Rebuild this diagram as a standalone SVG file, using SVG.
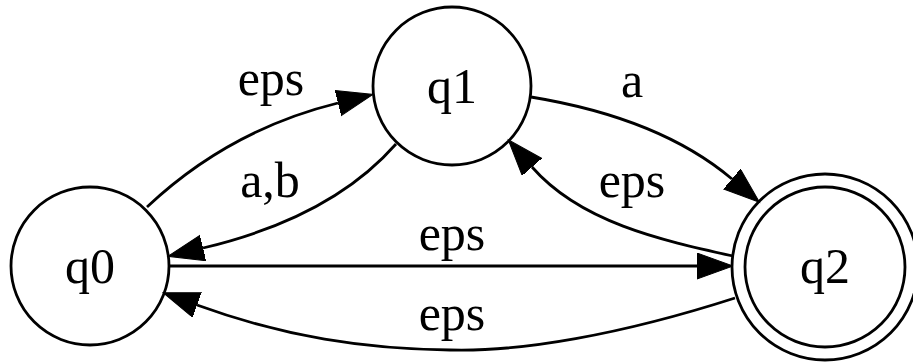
<svg xmlns="http://www.w3.org/2000/svg" width="913" height="363" viewBox="0 0 913 363">
<defs>
<style>
.node circle{fill:none;stroke:#000;stroke-width:2.8}
.edge{fill:none;stroke:#000;stroke-width:2.8}
.lbl{font-family:'Liberation Serif','Times New Roman',Times,'DejaVu Serif',serif;font-size:50px;fill:#000;text-anchor:middle}
</style>
<marker id="arr" markerUnits="userSpaceOnUse" markerWidth="40" markerHeight="30" refX="0" refY="13" orient="auto" viewBox="0 0 40 30">
<path d="M0,0 L36,13 L0,26 Z" fill="#000" stroke="#000" stroke-width="1"/>
</marker>
</defs>
<rect width="913" height="363" fill="#fff"/>
<g id="connectors">
<g id="e-q0-q1"><path class="edge" d="M147,207 C200,157 265,121 338,103" marker-end="url(#arr)"/><text class="lbl" font-family="Liberation Serif, serif" x="271" y="95">eps</text></g>
<g id="e-q1-q0"><path class="edge" d="M396,144 C360,185 300,225 203,248" marker-end="url(#arr)"/><text class="lbl" font-family="Liberation Serif, serif" x="270" y="197">a,b</text></g>
<g id="e-q1-q2"><path class="edge" d="M531,97 C610,110 680,135 732,179" marker-end="url(#arr)"/><text class="lbl" font-family="Liberation Serif, serif" x="632" y="97">a</text></g>
<g id="e-q2-q1"><path class="edge" d="M733,256 C660,240 580,222 532,167" marker-end="url(#arr)"/><text class="lbl" font-family="Liberation Serif, serif" x="632" y="197">eps</text></g>
<g id="e-q0-q2"><path class="edge" d="M170,266 L697,266" marker-end="url(#arr)"/><text class="lbl" font-family="Liberation Serif, serif" x="452" y="250">eps</text></g>
<g id="e-q2-q0"><path class="edge" d="M735,298 C620,335 520,352 450,350 C365,349 285,337 197,305" marker-end="url(#arr)"/><text class="lbl" font-family="Liberation Serif, serif" x="452" y="330">eps</text></g>
</g>
<g id="q0" class="node"><circle cx="90" cy="266" r="79"/><text class="lbl" font-family="Liberation Serif, serif" x="90" y="283">q0</text></g>
<g id="q1" class="node"><circle cx="452" cy="86" r="79"/><text class="lbl" font-family="Liberation Serif, serif" x="452" y="103">q1</text></g>
<g id="q2" class="node"><circle cx="825" cy="267" r="80"/><circle cx="825" cy="267" r="93"/><text class="lbl" font-family="Liberation Serif, serif" x="825" y="283">q2</text></g>
</svg>
